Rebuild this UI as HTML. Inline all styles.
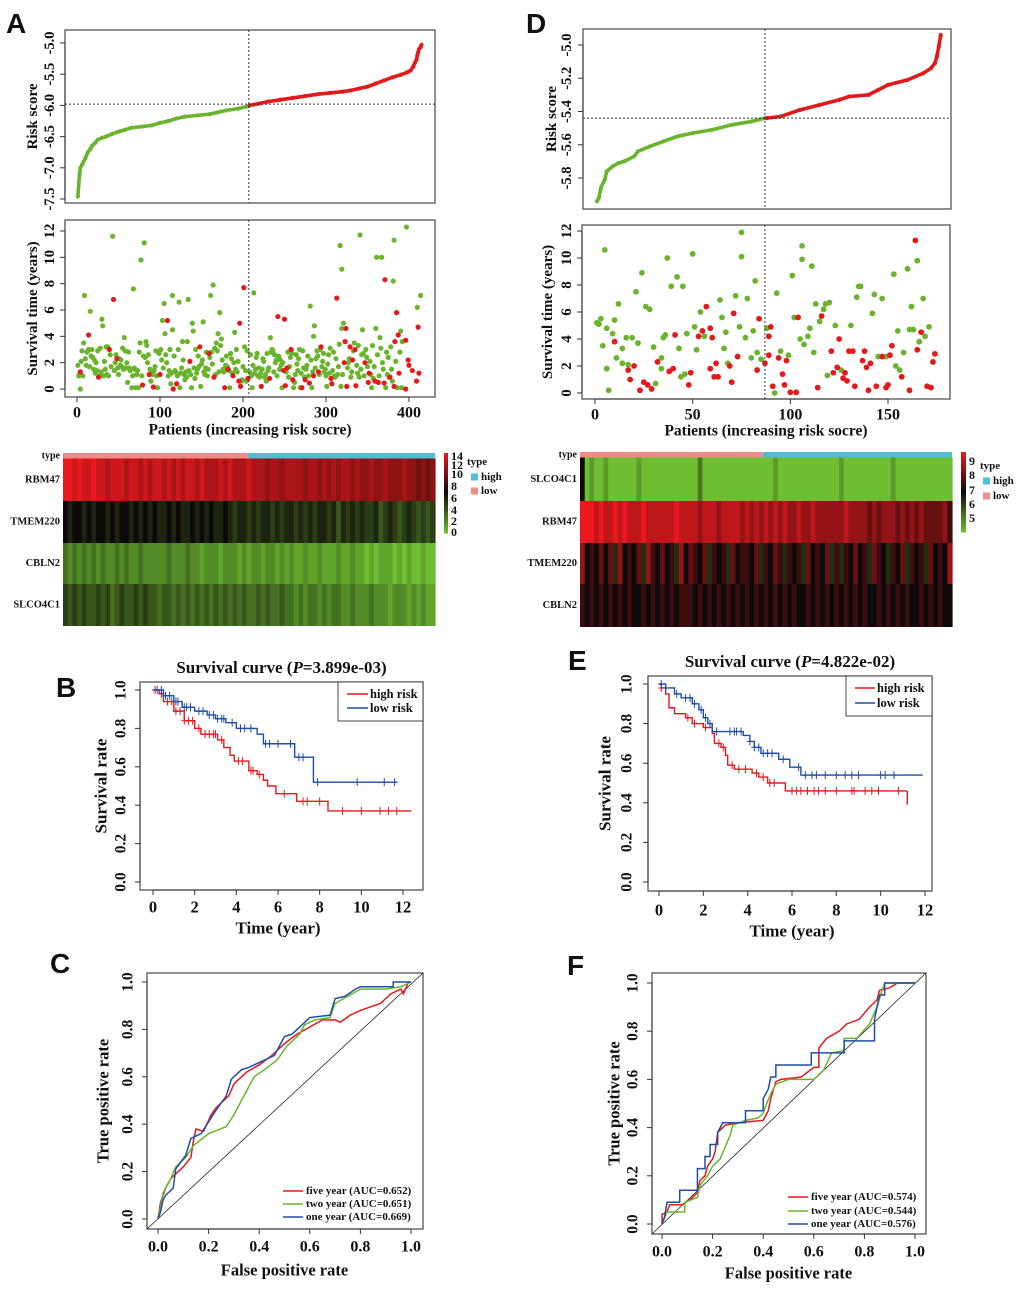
<!DOCTYPE html>
<html><head><meta charset="utf-8"><style>
html,body{margin:0;padding:0;background:#fff;}
svg{display:block;}
text{font-family:"Liberation Serif",serif;font-weight:bold;fill:#111;}
.pl{font-family:"Liberation Sans",sans-serif;font-weight:bold;font-size:28px;}
</style></head><body>
<svg id="fig" width="1020" height="1298" viewBox="0 0 1020 1298" xmlns="http://www.w3.org/2000/svg"></svg>
<script>
// ===== DATA =====
const aRiskIdx=[1,3,4,6,8,10,13,16,18,22,25,30,35,42,50,58,65,78,90,100,110,120,130,145,160,170,180,195,207];
const aRiskVal=[-7.46,-7.12,-7.0,-6.95,-6.9,-6.85,-6.75,-6.7,-6.65,-6.6,-6.55,-6.52,-6.5,-6.46,-6.42,-6.39,-6.36,-6.34,-6.32,-6.28,-6.25,-6.21,-6.18,-6.16,-6.14,-6.11,-6.08,-6.05,-6.01];
const aRiskIdxHi=[208,220,230,245,260,275,290,305,320,330,340,350,360,370,380,390,398,402,405,407,409,410,411,412,414,415];
const aRiskValHi=[-6.0,-5.97,-5.94,-5.91,-5.88,-5.85,-5.82,-5.8,-5.78,-5.76,-5.73,-5.7,-5.65,-5.6,-5.55,-5.51,-5.47,-5.44,-5.38,-5.32,-5.27,-5.2,-5.15,-5.1,-5.07,-5.03];
const aRiskTicks=[-5.0,-5.5,-6.0,-6.5,-7.0,-7.5];
const aRiskTickLabels=["-5.0","-5.5","-6.0","-6.5","-7.0","-7.5"];
const aAliveIdx=[1,4,8,9,16,30,31,35,43,57,68,77,81,83,103,105,106,115,115,123,127,134,139,140,152,161,164,172,170,174,190,213,233,281,286,285,317,319,321,319,341,344,361,367,360,365,381,382,390,397,410,414,392,
2,3,5,6,7,10,11,12,13,14,15,17,18,19,20,21,22,23,24,25,27,28,29,32,33,34,36,37,38,40,41,45,46,47,49,50,51,52,53,54,55,56,58,59,60,61,62,63,64,66,67,69,70,71,72,73,74,75,76,78,80,82,84,85,86,88,89,90,91,93,94,95,96,97,98,99,101,102,104,107,108,110,111,112,113,114,117,118,119,121,122,124,125,126,128,129,130,131,132,133,135,137,138,141,142,143,144,145,146,147,149,150,151,153,154,155,156,157,158,160,162,163,166,167,168,169,171,173,175,176,177,179,180,181,183,184,185,186,187,189,191,192,193,194,198,199,200,202,203,204,205,208,209,210,211,212,214,215,216,217,218,219,220,221,223,224,225,226,227,228,229,230,231,234,235,236,237,238,239,240,241,243,244,245,246,247,248,252,254,255,256,257,259,261,262,263,264,265,266,267,268,269,270,272,273,274,276,277,278,279,282,283,284,287,288,289,290,292,293,295,296,297,298,299,300,301,302,303,304,305,308,309,310,311,312,314,315,316,318,320,326,327,328,330,331,333,334,337,338,339,340,342,343,345,346,348,349,350,353,354,355,356,357,358,362,364,366,368,369,372,373,374,375,376,378,379,380,384,386,389,391,393,394,395];
const aAliveYrs=[1.8,0,3.5,7.1,5.9,5.3,4.8,3.2,11.6,3.9,7.6,9.8,11.1,3.6,5.2,6.5,4.2,7.1,4.5,6.6,3.6,6.8,5.0,4.4,5.1,7.1,7.9,5.8,4.2,3.8,4.3,7.3,3.9,6.3,4.8,4.0,10.9,9.1,5.0,4.6,11.7,4.5,10.0,10.0,4.6,3.9,8.2,11.3,4.4,12.3,6.2,7.1,3.6,
1.0,1.1,2.1,2.9,1.0,2.3,1.8,2.8,2.9,3.0,1.7,2.5,3.0,2.4,1.5,2.2,1.2,2.0,1.4,2.9,1.0,3.1,1.3,1.0,2.1,1.5,1.1,3.2,1.0,2.6,1.7,1.4,2.0,2.6,1.6,1.1,2.3,1.8,2.2,1.7,3.1,1.5,2.9,1.6,2.0,0.5,2.8,1.6,1.4,0.1,1.0,1.6,1.5,0.1,1.1,1.4,0.1,2.8,3.5,1.0,2.5,2.4,3.3,2.0,2.6,1.5,0.6,1.3,1.1,1.4,1.7,2.9,1.0,0.1,2.8,2.7,3.0,2.2,1.6,2.6,2.0,1.0,1.4,3.0,0.4,1.2,2.5,1.4,1.3,1.0,3.0,0.1,1.2,1.6,2.2,1.1,0.7,1.3,0.9,3.6,1.4,1.1,0.1,1.6,0.8,3.0,1.2,1.5,2.5,1.7,0.2,1.9,2.2,1.3,1.1,1.6,2.8,1.0,1.5,2.4,2.8,1.9,3.1,1.1,3.5,2.9,1.3,3.3,2.2,1.5,1.3,1.8,2.5,1.7,1.4,0.1,2.7,2.3,1.2,2.0,1.5,3.0,1.3,2.1,0.6,0.7,1.7,3.2,1.4,0.6,2.9,1.3,2.6,1.0,0.1,1.8,1.2,1.5,2.4,2.7,1.0,1.6,0.9,1.2,1.5,2.3,2.1,0.9,1.1,0.6,2.7,1.4,1.6,2.8,3.0,2.9,1.3,2.6,2.0,2.2,1.0,2.5,1.5,2.2,1.8,0.1,2.0,1.3,2.8,0.9,1.7,2.4,2.7,0.1,0.5,1.1,2.6,1.9,1.4,2.3,3.0,0.1,1.2,2.9,1.6,0.9,1.5,1.8,2.5,1.0,2.2,0.1,1.3,1.6,2.3,2.9,2.5,1.1,3.0,1.7,2.1,2.7,1.3,1.5,1.0,0.2,1.9,2.6,1.2,3.1,1.4,2.8,1.0,0.9,2.3,1.1,1.7,3.4,0.2,1.1,1.6,2.0,2.3,0.9,1.3,2.9,3.5,1.8,1.2,3.3,0.9,1.5,2.6,2.7,1.0,3.0,2.4,1.7,2.1,1.1,0.1,3.3,0.8,1.7,2.6,1.0,3.1,2.0,1.5,0.1,2.8,1.1,2.4,0.9,3.2,1.5,0.6,2.1,0.1,2.8,0.1];
const aDeadIdx=[4,14,26,39,44,48,79,87,92,100,109,116,120,136,148,159,165,178,182,188,196,195,197,201,206,222,232,242,250,251,249,253,258,260,271,275,280,285,291,294,306,307,313,323,324,322,325,329,332,335,336,347,351,352,359,363,371,370,377,383,385,387,388,382,396,396,399,400,404,411,412,409];
const aDeadYrs=[1.3,4.1,0.9,3.0,6.8,2.3,0.3,1.1,0.15,1.1,5.2,0,0.4,2.1,3.2,2.7,0.9,0.1,1.5,1.0,5.0,0.6,0.2,7.7,0.8,0.2,0.8,5.5,5.3,0.25,1.4,1.6,3.0,0.7,0.1,0.7,0.45,1.0,1.3,3.2,0.8,0.4,6.9,3.6,4.6,2.0,0.2,3.2,2.2,3.0,0.25,2.0,0.5,1.2,0.6,0.5,8.3,0.45,0.9,3.6,5.8,4.1,1.2,0.2,3.7,0,2.2,1.8,1.4,4.7,1.2,0.6];
const aXTicks=[0,100,200,300,400];
const aSurvTicks=[0,2,4,6,8,10,12];
const aGenes=["RBM47","TMEM220","CBLN2","SLCO4C1"];
const aHeat=[
"eededdeddcdddcddcdcddcdcdcddcdcccdcdcccdcccbccbccccbccbcbcbccbcbbcbbcbbbcbbabab",
"7677676776767767676766767667676766765665656656566565656656465656556456545654545",
"3232323232232322322222322232212221222121221221212112112111211211010111010100100",
"5454544545345445454434434343434343434343343433433232332323322322232221222121211"];
const aNPat=416, aCut=207;
const aScaleTicks=[14,12,10,8,6,4,2,0];

const dRiskIdx=[1,2,3,5,6,9,12,15,20,22,28,35,42,50,60,70,80,87];
const dRiskVal=[-5.94,-5.92,-5.86,-5.81,-5.76,-5.73,-5.71,-5.7,-5.67,-5.64,-5.61,-5.58,-5.55,-5.53,-5.51,-5.48,-5.46,-5.44];
const dRiskIdxHi=[88,95,105,115,125,130,140,145,150,160,168,172,174,175,176,177];
const dRiskValHi=[-5.44,-5.43,-5.39,-5.36,-5.33,-5.31,-5.3,-5.27,-5.24,-5.21,-5.17,-5.14,-5.11,-5.07,-5.01,-4.94];
const dRiskTicks=[-5.0,-5.2,-5.4,-5.6,-5.8];
const dRiskTickLabels=["-5.0","-5.2","-5.4","-5.6","-5.8"];
const dAliveIdx=[1,2,3,4,5,6,6,7,9,10,11,12,14,14,16,17,19,21,22,24,26,28,30,31,34,34,35,36,37,39,42,43,44,45,46,47,50,51,52,54,56,64,65,66,67,68,72,74,75,75,77,78,80,81,82,83,85,88,92,93,95,99,101,102,105,106,106,107,109,110,111,112,113,115,117,118,120,119,123,126,131,134,135,136,142,143,145,147,149,153,154,155,156,158,160,161,162,163,165,166,168,169,171];
const dAliveYrs=[5.2,5.1,5.5,3.5,10.6,4.8,1.8,0.2,4.4,5.4,2.6,6.6,2.2,3.3,4.1,2.1,4.1,7.5,3.7,8.9,6.4,6.2,3.4,0.7,2.6,1.8,4.1,4.3,10.0,7.9,8.6,3.3,1.2,7.9,1.4,4.4,10.3,4.9,3.2,6.0,4.2,6.9,5.6,3.3,4.5,2.2,7.2,4.9,10.1,11.9,4.1,7.0,2.6,4.6,8.3,3.0,2.5,4.8,0,7.4,3.1,2.8,8.7,5.6,4.0,10.9,9.9,3.6,4.2,4.8,9.4,3.0,6.6,5.3,6.2,6.6,6.7,1.3,5.0,1.7,5.0,7.1,7.9,7.9,5.9,7.3,2.7,7.0,2.7,8.8,2.0,4.6,1.7,3.0,9.2,4.7,6.4,4.7,9.8,3.8,7.0,4.2,4.9];
const dDeadIdx=[10,17,18,20,23,25,27,29,32,38,40,41,48,49,53,55,57,59,59,60,61,62,63,69,70,71,73,83,84,87,89,89,90,91,94,96,97,98,100,103,104,114,116,121,122,124,125,127,128,129,130,132,133,137,138,139,140,141,144,147,149,150,151,152,157,161,164,165,167,170,172,173,174];
const dDeadYrs=[3.8,1.7,1.0,2.0,0.2,0.8,0.6,0.3,2.3,1.6,1.8,4.3,0.6,1.5,4.2,4.6,6.4,1.8,4.8,4.1,1.2,2.2,1.2,2.0,0.8,5.9,2.7,1.7,5.5,2.2,4.2,2.8,4.9,0.5,2.6,1.4,0.6,2.4,0.05,0.05,5.6,0.4,5.7,3.1,1.5,1.9,4.0,1.1,1.5,0.9,3.1,3.1,0.5,2.4,3.1,1.9,0.2,2.2,0.5,2.7,0.4,0.6,2.8,3.5,1.2,0.2,11.3,3.2,4.5,0.5,0.4,2.3,2.9];
const dXTicks=[0,50,100,150];
const dSurvTicks=[0,2,4,6,8,10,12];
const dGenes=["SLCO4C1","RBM47","TMEM220","CBLN2"];
const dHeat=[
"5010010000001000000000000200000000000000010000000000000100000000001000000000000",
"aaa9a99a9a999a999999a9999899989999898989898988988988888898888787888787878777786",
"8565757485657486575648576574656475665746576465647565746465756476546574656475658",
"6565656565655656565656665656565656565656565656556565656565656556565656556565655"];
const dNPat=177, dCut=87;
const dScaleTicks=[9,8,7,6,5];

const bHighT=[0,0.3,0.5,1.0,1.5,2.0,2.3,3.1,3.4,3.7,3.9,4.6,5.0,5.3,5.5,5.9,6.9,8.4,12.4];
const bHighS=[1.0,0.98,0.94,0.89,0.84,0.80,0.77,0.74,0.70,0.66,0.63,0.58,0.56,0.53,0.50,0.46,0.42,0.37,0.37];
const bLowT=[0,0.5,1.0,1.4,2.0,2.6,3.0,3.5,4.0,5.0,5.3,6.8,7.7,11.7];
const bLowS=[1.0,0.97,0.94,0.91,0.89,0.87,0.85,0.83,0.80,0.77,0.72,0.65,0.52,0.52];
const bHighCens=[0.1,0.4,0.7,0.9,1.1,1.3,1.5,1.7,1.9,2.2,2.5,2.7,2.9,3.0,3.3,4.1,4.3,4.7,4.8,5.1,6.3,7.2,7.4,8.0,9.1,10.0,10.9,11.3,11.7];
const bLowCens=[0.2,0.4,0.6,0.8,1.1,1.2,1.5,1.6,1.8,2.2,2.4,2.7,2.9,3.1,3.3,3.4,3.8,4.2,4.4,4.7,5.4,5.6,6.0,6.6,7.0,7.2,7.9,9.8,11.1,11.6];
const eHighT=[0,0.1,0.3,0.45,0.7,1.2,1.5,2.0,2.4,2.5,2.8,3.0,3.1,3.4,4.2,4.5,4.9,5.7,11.2];
const eHighS=[1.0,0.98,0.95,0.88,0.85,0.83,0.80,0.78,0.75,0.70,0.68,0.64,0.59,0.57,0.55,0.53,0.50,0.46,0.46];
const eLowT=[0,0.3,0.7,1.0,1.5,1.8,2.0,2.2,2.4,3.8,4.1,4.3,4.6,5.4,5.9,6.4,11.9];
const eLowS=[1.0,0.98,0.95,0.93,0.90,0.87,0.83,0.80,0.76,0.74,0.71,0.68,0.65,0.62,0.58,0.54,0.54];
const eHighCens=[0.1,1.3,1.6,2.1,2.7,2.9,3.3,3.6,3.9,4.4,4.7,5.0,5.2,6.0,6.2,6.4,6.7,7.0,7.2,7.5,8.0,8.7,8.8,9.3,9.6,9.9,10.8];
const eLowCens=[0.1,0.3,0.8,1.2,1.4,1.6,1.9,2.1,2.3,2.6,3.2,3.4,3.5,3.7,4.1,4.3,4.5,4.7,4.9,5.1,5.6,6.3,6.6,6.9,7.1,7.5,8.0,8.4,8.7,9.0,10.0,10.2,10.6];
const kmXTicks=[0,2,4,6,8,10,12];
const kmYTicks=[0,0.2,0.4,0.6,0.8,1.0];

const cRedF=[0,0.01,0.03,0.05,0.08,0.10,0.13,0.14,0.15,0.18,0.21,0.23,0.26,0.28,0.30,0.35,0.40,0.45,0.50,0.55,0.60,0.65,0.70,0.72,0.76,0.80,0.88,0.92,0.96,0.97,0.99,1];
const cRedT=[0,0.07,0.13,0.17,0.20,0.22,0.26,0.33,0.38,0.37,0.44,0.47,0.50,0.52,0.57,0.62,0.65,0.69,0.74,0.78,0.81,0.84,0.84,0.83,0.86,0.88,0.91,0.95,0.97,0.95,1,1];
const cGreenF=[0,0.01,0.02,0.05,0.07,0.11,0.14,0.20,0.27,0.30,0.33,0.36,0.38,0.42,0.47,0.51,0.56,0.58,0.62,0.68,0.70,0.75,0.80,0.90,0.96,1];
const cGreenT=[0,0.05,0.11,0.17,0.22,0.26,0.31,0.36,0.39,0.44,0.50,0.56,0.60,0.63,0.67,0.73,0.78,0.82,0.84,0.85,0.91,0.94,0.97,0.97,0.98,1];
const cBlueF=[0,0.01,0.02,0.03,0.06,0.07,0.09,0.11,0.13,0.17,0.20,0.23,0.27,0.29,0.33,0.36,0.42,0.46,0.50,0.53,0.56,0.60,0.68,0.70,0.74,0.78,0.80,0.93,0.93,1];
const cBlueT=[0,0.03,0.08,0.10,0.13,0.21,0.24,0.27,0.34,0.36,0.41,0.46,0.52,0.59,0.63,0.64,0.67,0.69,0.77,0.78,0.81,0.85,0.86,0.93,0.94,0.97,0.98,0.98,1.0,1];
const fRedF=[0,0,0.02,0.03,0.08,0.12,0.14,0.15,0.17,0.18,0.20,0.21,0.22,0.25,0.30,0.40,0.42,0.43,0.45,0.47,0.55,0.60,0.62,0.62,0.65,0.70,0.73,0.78,0.82,0.85,0.86,0.90,0.93,1];
const fRedT=[0,0.04,0.05,0.08,0.08,0.11,0.13,0.18,0.20,0.24,0.27,0.30,0.38,0.41,0.42,0.43,0.47,0.52,0.59,0.60,0.61,0.65,0.65,0.73,0.77,0.80,0.83,0.85,0.90,0.93,0.97,0.98,1.0,1];
const fGreenF=[0,0.02,0.09,0.09,0.14,0.15,0.18,0.20,0.23,0.25,0.27,0.28,0.33,0.38,0.40,0.41,0.43,0.45,0.50,0.60,0.64,0.67,0.72,0.72,0.77,0.82,0.85,0.87,0.88,1];
const fGreenT=[0,0.05,0.05,0.09,0.11,0.16,0.20,0.24,0.27,0.32,0.37,0.41,0.43,0.44,0.46,0.49,0.54,0.58,0.60,0.60,0.64,0.71,0.72,0.77,0.77,0.83,0.90,0.97,1.0,1];
const fBlueF=[0,0.01,0.02,0.07,0.07,0.14,0.14,0.17,0.17,0.19,0.19,0.22,0.22,0.24,0.33,0.33,0.40,0.40,0.42,0.43,0.45,0.45,0.59,0.59,0.72,0.72,0.84,0.84,0.86,0.88,0.88,1];
const fBlueT=[0,0.03,0.09,0.09,0.14,0.14,0.23,0.23,0.28,0.28,0.33,0.33,0.38,0.42,0.42,0.47,0.47,0.52,0.56,0.61,0.61,0.66,0.66,0.71,0.71,0.76,0.76,0.85,0.95,0.95,1.0,1];
const rocTicks=[0,0.2,0.4,0.6,0.8,1.0];

// ===== DRAWING =====
const NS="http://www.w3.org/2000/svg";
const svg=document.getElementById('fig');
const GREEN="#6ab42d", RED="#e3191c", BLUE="#1f4ea8";
function mk(tag,attrs,parent){const e=document.createElementNS(NS,tag);for(const k in attrs)e.setAttribute(k,attrs[k]);(parent||svg).appendChild(e);return e;}
function lin(d0,d1,r0,r1){return v=>r0+(v-d0)*(r1-r0)/(d1-d0);}
function txt(x,y,s,size,opts,parent){const t=mk('text',Object.assign({x:x,y:y,'font-size':size},opts||{}),parent);t.textContent=s;return t;}
function rtxt(x,y,s,size,parent){return txt(0,0,s,size,{transform:`translate(${x},${y}) rotate(-90)`,'text-anchor':'middle','dominant-baseline':'central'},parent);}
function group(name){const g=mk('g',{});return g;}
function box(g,x0,y0,x1,y1,name){const r=mk('rect',{x:x0,y:y0,width:x1-x0,height:y1-y0,fill:'none',stroke:'#555','stroke-width':1.3},g);return r;}
function letter(s,x,y){const t=txt(x,y,s,28,{class:'pl'});}

function yTicksRot(g,ticks,labels,sy,xAxis,xLab,size){
  ticks.forEach((v,i)=>{const y=sy(v);mk('line',{x1:xAxis-5,y1:y,x2:xAxis,y2:y,stroke:'#333','stroke-width':1},g);
    const t=rtxt(xLab,y,labels?labels[i]:String(v),size,g);});
  mk('line',{x1:xAxis,y1:sy(ticks[0]),x2:xAxis,y2:sy(ticks[ticks.length-1]),stroke:'#333','stroke-width':1},g);
}
function xTicks(g,ticks,labels,sx,yAxis,yLab,size){
  ticks.forEach((v,i)=>{const x=sx(v);mk('line',{x1:x,y1:yAxis,x2:x,y2:yAxis+5,stroke:'#333','stroke-width':1},g);
    const t=txt(x,yLab,labels?labels[i]:String(v),size,{'text-anchor':'middle','dominant-baseline':'central'},g);});
  mk('line',{x1:sx(ticks[0]),y1:yAxis,x2:sx(ticks[ticks.length-1]),y2:yAxis,stroke:'#333','stroke-width':1},g);
}

function riskPlot(name,bx,sx,sy,loI,loV,hiI,hiV,ticks,tlab,cut,cutVal,ylabX,ytickX){
  const g=group(name);
  box(g,bx[0],bx[1],bx[2],bx[3],name+'-frame');
  const pl=(I,V,c,nm)=>{const p=mk('polyline',{points:I.map((v,i)=>sx(v)+','+sy(V[i])).join(' '),fill:'none',stroke:c,'stroke-width':3.6,'stroke-linecap':'round','stroke-linejoin':'round'},g);
    I.forEach((v,i)=>{const c2=mk('circle',{cx:sx(v),cy:sy(V[i]),r:2.1,fill:c},g);});};
  pl(loI,loV,GREEN,'low-risk-curve');pl(hiI,hiV,RED,'high-risk-curve');
  mk('line',{x1:bx[0],y1:sy(cutVal),x2:bx[2],y2:sy(cutVal),stroke:'#333','stroke-width':1,'stroke-dasharray':'2,2'},g);
  mk('line',{x1:sx(cut),y1:bx[1],x2:sx(cut),y2:bx[3],stroke:'#333','stroke-width':1,'stroke-dasharray':'2,2'},g);
  yTicksRot(g,ticks,tlab,sy,bx[0],ytickX,14.5);
  const t=rtxt(ylabX,(bx[1]+bx[3])/2,'Risk score',15,g);
}
function survPlot(name,bx,sx,sy,aI,aY,dI,dY,cut,xt,yt,ylabX,ytickX,xtickY,xtitleY,r){
  const g=group(name);
  box(g,bx[0],bx[1],bx[2],bx[3],name+'-frame');
  const na=Math.min(aI.length,aY.length), nd=Math.min(dI.length,dY.length);
  for(let i=0;i<na;i++){const c=mk('circle',{cx:sx(aI[i]),cy:sy(aY[i]),r:r,fill:GREEN},g);}
  for(let i=0;i<nd;i++){const c=mk('circle',{cx:sx(dI[i]),cy:sy(dY[i]),r:r,fill:RED},g);}
  mk('line',{x1:sx(cut),y1:bx[1],x2:sx(cut),y2:bx[3],stroke:'#333','stroke-width':1,'stroke-dasharray':'2,2'},g);
  yTicksRot(g,yt,null,sy,bx[0],ytickX,15);
  xTicks(g,xt,null,sx,bx[3],xtickY,16);
  const t=rtxt(ylabX,(bx[1]+bx[3])/2,'Survival time (years)',15,g);
  const t2=txt((bx[0]+bx[2])/2,xtitleY,'Patients (increasing risk socre)',15.5,{'text-anchor':'middle','dominant-baseline':'central'},g);
}
function heatColor(v,lo,mid,hi){
  const G=[110,190,50],K=[15,10,10],R=[235,25,30];let a,b,f;
  if(v<mid){a=G;b=K;f=(v-lo)/(mid-lo);}else{a=K;b=R;f=(v-mid)/(hi-mid);}
  f=Math.max(0,Math.min(1,f));return `rgb(${a.map((c,i)=>Math.round(c+(b[i]-c)*f)).join(',')})`;
}
function heatmap(name,x0,x1,typeY,rowY,genes,rows,conv,lo,mid,hi,nPat,cut,labX,cb,ticks,tickYs,leg){
  const g=group(name);
  const cutX=x0+(x1-x0)*cut/nPat;
  const tl=mk('rect',{x:x0,y:typeY[0],width:cutX-x0,height:typeY[1]-typeY[0],fill:'#f08c88'},g);
  const th=mk('rect',{x:cutX,y:typeY[0],width:x1-cutX,height:typeY[1]-typeY[0],fill:'#4fbfd1'},g);
  const tt=txt(labX,(typeY[0]+typeY[1])/2,'type',10,{'text-anchor':'end','dominant-baseline':'central'},g);
  rows.forEach((s,ri)=>{const n=s.length,w=(x1-x0)/n,y0=rowY[ri],y1=rowY[ri+1];
    for(let j=0;j<n;j++){const c=mk('rect',{x:x0+j*w,y:y0,width:w+0.6,height:y1-y0,fill:heatColor(conv(parseInt(s[j],16)),lo,mid,hi)},g);}
    const l=txt(labX,(y0+y1)/2,genes[ri],10.5,{'text-anchor':'end','dominant-baseline':'central'},g);});
  const steps=40;for(let i=0;i<steps;i++){const v=hi-(hi-lo)*(i+0.5)/steps;const r=mk('rect',{x:cb[0],y:cb[1]+(cb[3]-cb[1])*i/steps,width:cb[2]-cb[0],height:(cb[3]-cb[1])/steps+0.5,fill:heatColor(v,lo,mid,hi)},g);}
  ticks.forEach((v,i)=>{const t=txt(cb[2]+3,tickYs[i],String(v),12,{'dominant-baseline':'central'},g);});
  const lt=txt(leg.x,leg.ty,'type',11,{'dominant-baseline':'central'},g);
  const s1=mk('rect',{x:leg.sx,y:leg.hy-3.5,width:7,height:7,fill:'#4fbfd1'},g);
  const h1=txt(leg.sx+10,leg.hy,'high',11,{'dominant-baseline':'central'},g);
  const s2=mk('rect',{x:leg.sx,y:leg.ly-3.5,width:7,height:7,fill:'#f08c88'},g);
  const h2=txt(leg.sx+10,leg.ly,'low',11,{'dominant-baseline':'central'},g);
}
function kmPlot(name,bx,sx,sy,curves,title,pval,ylabX,ytickX,xtickY,xtitleY,titleY,leg){
  const g=group(name);
  box(g,bx[0],bx[1],bx[2],bx[3],name+'-frame');
  curves.forEach(c=>{let d=`M${sx(c.t[0])},${sy(c.s[0])}`;
    for(let i=1;i<c.t.length;i++){d+=` H${sx(c.t[i])} V${sy(c.s[i])}`;}
    const p=mk('path',{d:d,fill:'none',stroke:c.col,'stroke-width':1.4},g);
    c.cens.forEach(t=>{let s=c.s[0];for(let i=0;i<c.t.length;i++){if(c.t[i]<=t)s=c.s[i];}
      const m=mk('path',{d:`M${sx(t)},${sy(s)-4}V${sy(s)+4}M${sx(t)-3},${sy(s)}H${sx(t)+3}`,stroke:c.col,'stroke-width':1,fill:'none'},g);});
    if(c.drop!==undefined){const last=c.t[c.t.length-1];mk('line',{x1:sx(last),y1:sy(c.s[c.s.length-1]),x2:sx(last),y2:sy(c.drop),stroke:c.col,'stroke-width':1.4},g);}
  });
  yTicksRot(g,kmYTicks,kmYTicks.map(v=>v.toFixed(1)),sy,bx[0],ytickX,15.5);
  xTicks(g,kmXTicks,null,sx,bx[3],xtickY,16.5);
  const yt=rtxt(ylabX,(bx[1]+bx[3])/2,'Survival rate',17,g);
  const xt=txt((sx(0)+sx(12))/2,xtitleY,'Time (year)',17,{'text-anchor':'middle','dominant-baseline':'central'},g);
  const tt=mk('text',{x:(bx[0]+bx[2])/2,y:titleY,'font-size':17,'text-anchor':'middle','dominant-baseline':'central'},g);
  
  const a=document.createElementNS(NS,'tspan');a.textContent='Survival curve (';tt.appendChild(a);
  const b=document.createElementNS(NS,'tspan');b.setAttribute('font-style','italic');b.textContent='P';tt.appendChild(b);
  const c=document.createElementNS(NS,'tspan');c.textContent='='+pval+')';tt.appendChild(c);
  const lb=mk('rect',{x:leg.x0,y:bx[1],width:bx[2]-leg.x0,height:leg.y1-bx[1],fill:'#fff',stroke:'#444','stroke-width':1},g);
  [['high risk',RED,leg.r1],['low risk',BLUE,leg.r2]].forEach(([s,col,y])=>{mk('line',{x1:leg.l0,y1:y,x2:leg.l1,y2:y,stroke:col,'stroke-width':1.5},g);
    const t=txt(leg.l1+2,y,s,12.5,{'dominant-baseline':'central'},g);});
}
function rocPlot(name,bx,sx,sy,series,ylabX,ytickX,xtickY,xtitleY,leg){
  const g=group(name);
  box(g,bx[0],bx[1],bx[2],bx[3],name+'-frame');
  mk('line',{x1:bx[0],y1:bx[3],x2:bx[2],y2:bx[1],stroke:'#222','stroke-width':0.8},g);
  series.forEach(s=>{const p=mk('polyline',{points:s.f.map((v,i)=>sx(v)+','+sy(s.t[i])).join(' '),fill:'none',stroke:s.col,'stroke-width':1.5},g);});
  yTicksRot(g,rocTicks,rocTicks.map(v=>v.toFixed(1)),sy,bx[0],ytickX,15.5);
  xTicks(g,rocTicks,rocTicks.map(v=>v.toFixed(1)),sx,bx[3],xtickY,16);
  const yt=rtxt(ylabX,(bx[1]+bx[3])/2,'True positive rate',16.5,g);
  const xt=txt((sx(0)+sx(1))/2,xtitleY,'False positive rate',16.5,{'text-anchor':'middle','dominant-baseline':'central'},g);
  series.forEach((s,i)=>{const y=leg.ys[i];mk('line',{x1:leg.l0,y1:y,x2:leg.l1,y2:y,stroke:s.col,'stroke-width':1.5},g);
    const t=txt(leg.l1+3,y,s.label,11,{'dominant-baseline':'central'},g);});
}

letter('A',6,33);letter('D',526,33);letter('B',56,697);letter('E',568,670);letter('C',50,973);letter('F',567,975);

{const sx=lin(0,400,77,409);
 riskPlot('risk-score-plot-a',[65,30,435,203],sx,lin(-5.0,-7.5,43,199),aRiskIdx,aRiskVal,aRiskIdxHi,aRiskValHi,aRiskTicks,aRiskTickLabels,aCut,-5.98,33,50);
 survPlot('survival-scatter-a',[65,220,435,397],sx,lin(0,12,389,231),aAliveIdx,aAliveYrs,aDeadIdx,aDeadYrs,aCut,aXTicks,aSurvTicks,33,50,413,430,2.6);
 heatmap('heatmap-a',63,435,[453,458.5],[458.5,501,543,584,626],aGenes,aHeat,h=>h,0,7,14,aNPat,aCut,60,[444,453,448,533],aScaleTicks,[456,465,474,486,498,510,521,532],{x:467,ty:462,sx:471,hy:477,ly:491});
}
{const sx=lin(0,150,595,888);
 riskPlot('risk-score-plot-d',[583,29,951,209],sx,lin(-5.0,-5.8,45,178),dRiskIdx,dRiskVal,dRiskIdxHi,dRiskValHi,dRiskTicks,dRiskTickLabels,dCut,-5.44,552,567);
 survPlot('survival-scatter-d',[582,225,950,399],sx,lin(0,12,393,231),dAliveIdx,dAliveYrs,dDeadIdx,dDeadYrs,dCut,dXTicks,dSurvTicks,548,567,415,431,2.9);
 heatmap('heatmap-d',580,952,[452,457.5],[457.5,501,543,584,627],dGenes,dHeat,h=>4.5+0.5*h,4.5,7,9.5,dNPat,dCut,577,[961,452,966,532],dScaleTicks,[461,475,490,504,518],{x:980,ty:466,sx:983,hy:481,ly:496});
}
kmPlot('km-plot-b',[140,682,423,890],lin(0,12,153,403),lin(0,1,882,690),
 [{t:bHighT,s:bHighS,col:RED,cens:bHighCens,name:'high-risk-curve'},{t:bLowT,s:bLowS,col:BLUE,cens:bLowCens,name:'low-risk-curve'}],
 'Survival curve','3.899e-03',101,121,907,928,667,{x0:338,y1:721,l0:347,l1:368,r1:694,r2:708});
kmPlot('km-plot-e',[648,676,932,891],lin(0,12,659,925),lin(0,1,882,684),
 [{t:eHighT,s:eHighS,col:RED,cens:eHighCens,name:'high-risk-curve',drop:0.39},{t:eLowT,s:eLowS,col:BLUE,cens:eLowCens,name:'low-risk-curve'}],
 'Survival curve','4.822e-02',605,627,910,931,661,{x0:846,y1:716,l0:855,l1:875,r1:688,r2:703});
rocPlot('roc-plot-c',[147,973,423,1229],lin(0,1,158,411),lin(0,1,1219,982),
 [{f:cRedF,t:cRedT,col:RED,name:'five-year-roc',label:'five year (AUC=0.652)'},{f:cGreenF,t:cGreenT,col:GREEN,name:'two-year-roc',label:'two year (AUC=0.651)'},{f:cBlueF,t:cBlueT,col:BLUE,name:'one-year-roc',label:'one year (AUC=0.669)'}],
 103,128,1247,1270,{l0:283,l1:303,ys:[1191,1204,1217]});
rocPlot('roc-plot-f',[652,973,926,1234],lin(0,1,662,915),lin(0,1,1224,983),
 [{f:fRedF,t:fRedT,col:RED,name:'five-year-roc',label:'five year (AUC=0.574)'},{f:fGreenF,t:fGreenT,col:GREEN,name:'two-year-roc',label:'two year (AUC=0.544)'},{f:fBlueF,t:fBlueT,col:BLUE,name:'one-year-roc',label:'one year (AUC=0.576)'}],
 614,633,1252,1273,{l0:788,l1:808,ys:[1197,1211,1224]});
</script>
</body></html>
